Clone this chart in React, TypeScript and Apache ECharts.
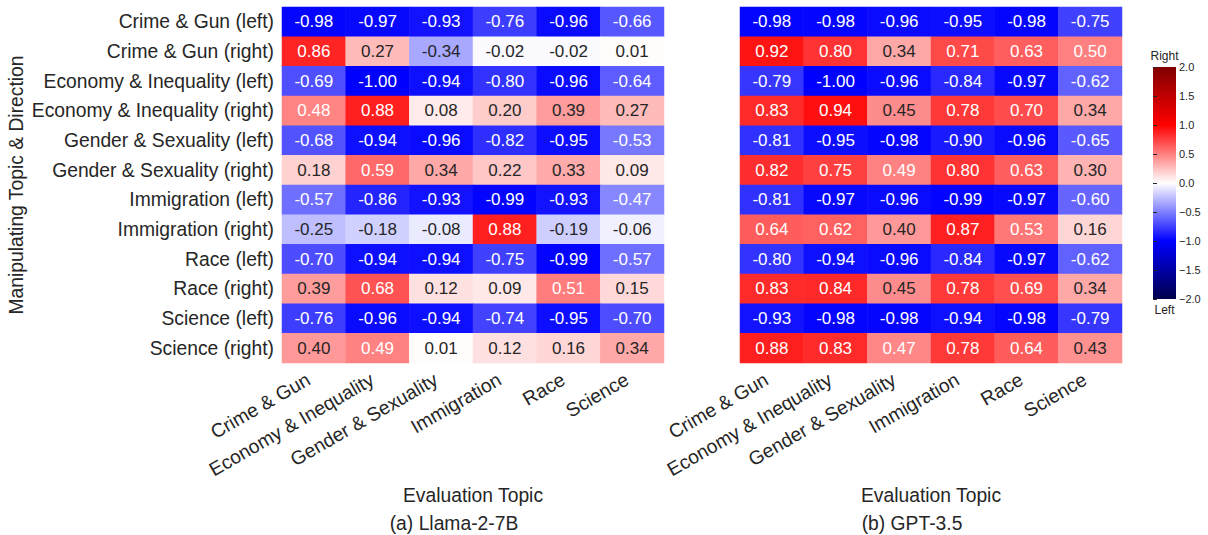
import React, { useEffect, useRef } from "react";
import * as echarts from "echarts";

const evalTopics = ["Crime & Gun", "Economy & Inequality", "Gender & Sexuality", "Immigration", "Race", "Science"];
const manipRows = [
  "Crime & Gun (left)", "Crime & Gun (right)",
  "Economy & Inequality (left)", "Economy & Inequality (right)",
  "Gender & Sexuality (left)", "Gender & Sexuality (right)",
  "Immigration (left)", "Immigration (right)",
  "Race (left)", "Race (right)",
  "Science (left)", "Science (right)",
];
const llamaValues = [
  [-0.98, -0.97, -0.93, -0.76, -0.96, -0.66],
  [0.86, 0.27, -0.34, -0.02, -0.02, 0.01],
  [-0.69, -1.0, -0.94, -0.8, -0.96, -0.64],
  [0.48, 0.88, 0.08, 0.2, 0.39, 0.27],
  [-0.68, -0.94, -0.96, -0.82, -0.95, -0.53],
  [0.18, 0.59, 0.34, 0.22, 0.33, 0.09],
  [-0.57, -0.86, -0.93, -0.99, -0.93, -0.47],
  [-0.25, -0.18, -0.08, 0.88, -0.19, -0.06],
  [-0.7, -0.94, -0.94, -0.75, -0.99, -0.57],
  [0.39, 0.68, 0.12, 0.09, 0.51, 0.15],
  [-0.76, -0.96, -0.94, -0.74, -0.95, -0.7],
  [0.4, 0.49, 0.01, 0.12, 0.16, 0.34],
];
const gptValues = [
  [-0.98, -0.98, -0.96, -0.95, -0.98, -0.75],
  [0.92, 0.8, 0.34, 0.71, 0.63, 0.5],
  [-0.79, -1.0, -0.96, -0.84, -0.97, -0.62],
  [0.83, 0.94, 0.45, 0.78, 0.7, 0.34],
  [-0.81, -0.95, -0.98, -0.9, -0.96, -0.65],
  [0.82, 0.75, 0.49, 0.8, 0.63, 0.3],
  [-0.81, -0.97, -0.96, -0.99, -0.97, -0.6],
  [0.64, 0.62, 0.4, 0.87, 0.53, 0.16],
  [-0.8, -0.94, -0.96, -0.84, -0.97, -0.62],
  [0.83, 0.84, 0.45, 0.78, 0.69, 0.34],
  [-0.93, -0.98, -0.98, -0.94, -0.98, -0.79],
  [0.88, 0.83, 0.47, 0.78, 0.64, 0.43],
];
const colorbarTicks = [-2, -1.5, -1, -0.5, 0, 0.5, 1, 1.5, 2];

const FONT = "'Liberation Sans', Arial, Helvetica, sans-serif";
const DARK = "#262626";
const seismicHex = ["#00004c", "#0000ff", "#ffffff", "#ff0000", "#800000"];
const seismicRGB = [
  [0, 0, 0.3], [0, 0, 1], [1, 1, 1], [1, 0, 0], [0.5, 0, 0],
];

function labelColor(v: number): string {
  let t = (v + 2) / 4;
  t = Math.max(0, Math.min(1, t));
  const pos = t * 4;
  const i = Math.min(3, Math.floor(pos));
  const f = pos - i;
  const c = [0, 1, 2].map((k) => seismicRGB[i][k] + (seismicRGB[i + 1][k] - seismicRGB[i][k]) * f);
  const lin = c.map((x) => (x <= 0.03928 ? x / 12.92 : Math.pow((x + 0.055) / 1.055, 2.4)));
  const lum = 0.2126 * lin[0] + 0.7152 * lin[1] + 0.0722 * lin[2];
  return lum > 0.408 ? DARK : "#ffffff";
}

function buildData(values: number[][]) {
  const out: any[] = [];
  values.forEach((row, r) => {
    row.forEach((v, c) => {
      out.push({ value: [c, r, v], label: { color: labelColor(v) } });
    });
  });
  return out;
}

const GRID_TOP = 7;
const GRID_H = 356;
const GRID_W = 382;
const LEFT1 = 282;
const LEFT2 = 740;
const CB_LEFT = 1153;
const CB_TOP = 67;
const CB_W = 23;
const CB_H = 232;
const BIG = 19.3;

export default function App() {
  const ref = useRef<HTMLDivElement>(null);
  useEffect(() => {
    if (!ref.current) return;
    const chart = echarts.init(ref.current, null, { renderer: "svg" });
    const xAxisBase = (gridIndex: number) => ({
      type: "category",
      gridIndex,
      data: evalTopics,
      axisLine: { show: false },
      axisTick: { show: false },
      splitLine: { show: false },
      axisLabel: {
        rotate: 30,
        fontSize: BIG,
        color: DARK,
        fontFamily: FONT,
        margin: 12,
        padding: [0, 6, 0, 0],
        interval: 0,
      },
      name: "Evaluation Topic",
      nameLocation: "middle",
      nameGap: 115,
      nameTextStyle: { fontSize: BIG, color: DARK, fontFamily: FONT },
    });
    const yAxisBase = (gridIndex: number, showLabels: boolean) => ({
      type: "category",
      gridIndex,
      data: manipRows,
      inverse: true,
      axisLine: { show: false },
      axisTick: { show: false },
      splitLine: { show: false },
      axisLabel: {
        show: showLabels,
        fontSize: BIG,
        color: DARK,
        fontFamily: FONT,
        margin: 8,
        interval: 0,
      },
      name: showLabels ? "Manipulating Topic & Direction" : "",
      nameLocation: "middle",
      nameRotate: 90,
      nameGap: 256,
      nameTextStyle: { fontSize: BIG, color: DARK, fontFamily: FONT },
    });
    const seriesLabel = {
      show: true,
      fontSize: 17,
      fontFamily: FONT,
      formatter: (p: any) => Number(p.value[2]).toFixed(2),
    };
    const option: any = {
      animation: false,
      backgroundColor: "#ffffff",
      grid: [
        { left: LEFT1, top: GRID_TOP, width: GRID_W, height: GRID_H },
        { left: LEFT2, top: GRID_TOP, width: GRID_W, height: GRID_H },
        { left: CB_LEFT, top: CB_TOP, width: CB_W, height: CB_H },
      ],
      xAxis: [
        xAxisBase(0),
        xAxisBase(1),
        { type: "value", gridIndex: 2, show: false, min: 0, max: 1 },
      ],
      yAxis: [
        yAxisBase(0, true),
        yAxisBase(1, false),
        {
          type: "value",
          gridIndex: 2,
          position: "right",
          min: -2,
          max: 2,
          interval: 0.5,
          axisLine: { show: false },
          splitLine: { show: false },
          axisTick: { show: true, length: 4, lineStyle: { color: DARK, width: 1 } },
          axisLabel: {
            fontSize: 11,
            color: DARK,
            fontFamily: FONT,
            margin: 3,
            formatter: (v: number) => (v < 0 ? "\u2212" : "") + Math.abs(v).toFixed(1),
          },
        },
      ],
      visualMap: {
        type: "continuous",
        show: false,
        min: -2,
        max: 2,
        seriesIndex: [0, 1],
        dimension: 2,
        inRange: { color: seismicHex },
      },
      series: [
        {
          type: "heatmap",
          xAxisIndex: 0,
          yAxisIndex: 0,
          data: buildData(llamaValues),
          label: seriesLabel,
          itemStyle: { borderWidth: 0 },
        },
        {
          type: "heatmap",
          xAxisIndex: 1,
          yAxisIndex: 1,
          data: buildData(gptValues),
          label: seriesLabel,
          itemStyle: { borderWidth: 0 },
        },
        {
          type: "scatter",
          xAxisIndex: 2,
          yAxisIndex: 2,
          data: colorbarTicks.map((t) => [0.5, t]),
          symbolSize: 0,
          silent: true,
        },
      ],
      graphic: [
        {
          type: "rect",
          shape: { x: CB_LEFT, y: CB_TOP, width: CB_W, height: CB_H },
          style: {
            fill: new echarts.graphic.LinearGradient(0, 0, 0, 1, [
              { offset: 0, color: "#800000" },
              { offset: 0.25, color: "#ff0000" },
              { offset: 0.5, color: "#ffffff" },
              { offset: 0.75, color: "#0000ff" },
              { offset: 1, color: "#00004c" },
            ]),
          },
          silent: true,
          z: -1,
        },
        {
          type: "text",
          x: CB_LEFT + CB_W / 2,
          y: CB_TOP - 11,
          style: { text: "Right", fontSize: 12, fill: DARK, fontFamily: FONT, textAlign: "center", textVerticalAlign: "middle" },
        },
        {
          type: "text",
          x: CB_LEFT + CB_W / 2,
          y: CB_TOP + CB_H + 11,
          style: { text: "Left", fontSize: 12, fill: DARK, fontFamily: FONT, textAlign: "center", textVerticalAlign: "middle" },
        },
        {
          type: "text",
          x: 454,
          y: 523,
          style: { text: "(a) Llama-2-7B", fontSize: BIG, fill: DARK, fontFamily: FONT, textAlign: "center", textVerticalAlign: "middle" },
        },
        {
          type: "text",
          x: 912,
          y: 523,
          style: { text: "(b) GPT-3.5", fontSize: BIG, fill: DARK, fontFamily: FONT, textAlign: "center", textVerticalAlign: "middle" },
        },
      ],
    };
    chart.setOption(option);
    return () => chart.dispose();
  }, []);
  return (
    <div style={{ position: "fixed", left: 0, top: 0, width: 1208, height: 535, background: "#fff" }}>
      <div ref={ref} style={{ width: 1208, height: 535 }} />
    </div>
  );
}
